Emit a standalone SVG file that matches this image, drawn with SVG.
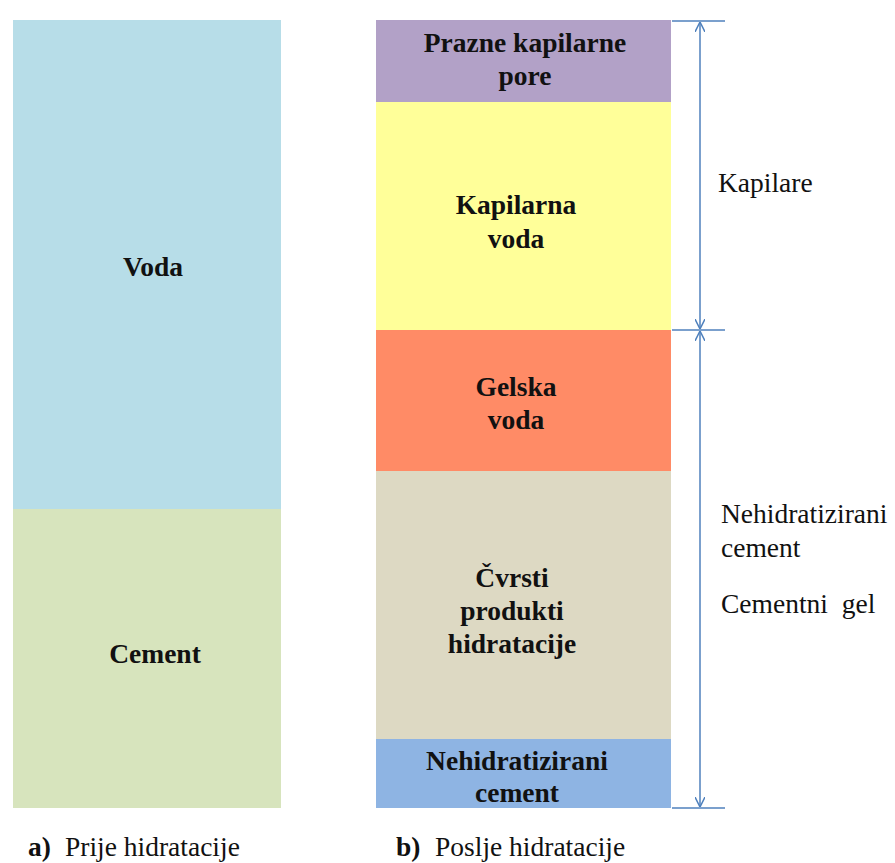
<svg xmlns="http://www.w3.org/2000/svg" width="895" height="863" viewBox="0 0 895 863">
<style>
.b{font-family:'Liberation Serif',serif;font-weight:bold;font-size:27.5px;fill:#111;text-anchor:middle}
.n{font-family:'Liberation Serif',serif;font-size:27.5px;fill:#111}
.ln{stroke:#4F81BD;stroke-width:1.5;fill:none}
</style>
<defs>
<marker id="ah" viewBox="0 0 10 10" refX="10" refY="5" markerWidth="10" markerHeight="10" markerUnits="userSpaceOnUse" orient="auto-start-reverse">
<path d="M0,0 L10,5 L0,10" fill="none" stroke="#4F81BD" stroke-width="1.5"/>
</marker>
</defs>
<rect width="895" height="863" fill="#fff"/>
<g id="voda"><rect x="13" y="20" width="268" height="489" fill="#B7DDE8"/><text class="b" font-family="'Liberation Serif', serif" x="153" y="276">Voda</text></g>
<g id="cement"><rect x="13" y="509" width="268" height="299" fill="#D7E4BD"/><text class="b" font-family="'Liberation Serif', serif" x="155" y="663">Cement</text></g>
<g id="prazne"><rect x="376" y="20" width="295" height="82" fill="#B2A1C7"/><text class="b" font-family="'Liberation Serif', serif" x="525" y="52">Prazne kapilarne</text><text class="b" font-family="'Liberation Serif', serif" x="525" y="85">pore</text></g>
<g id="kapilarna"><rect x="376" y="102" width="295" height="228" fill="#FFFF99"/><text class="b" font-family="'Liberation Serif', serif" x="516" y="214">Kapilarna</text><text class="b" font-family="'Liberation Serif', serif" x="516" y="248">voda</text></g>
<g id="gelska"><rect x="376" y="330" width="295" height="141" fill="#FF8B66"/><text class="b" font-family="'Liberation Serif', serif" x="516" y="396">Gelska</text><text class="b" font-family="'Liberation Serif', serif" x="516" y="429">voda</text></g>
<g id="cvrsti"><rect x="376" y="471" width="295" height="268" fill="#DDD9C3"/><text class="b" font-family="'Liberation Serif', serif" x="512" y="587">Čvrsti</text><text class="b" font-family="'Liberation Serif', serif" x="512" y="620">produkti</text><text class="b" font-family="'Liberation Serif', serif" x="512" y="653">hidratacije</text></g>
<g id="nehid"><rect x="376" y="739" width="295" height="69" fill="#8EB4E3"/><text class="b" font-family="'Liberation Serif', serif" x="517" y="770">Nehidratizirani</text><text class="b" font-family="'Liberation Serif', serif" x="517" y="802">cement</text></g>
<g id="connectors">
<line class="ln" x1="672" y1="21" x2="725" y2="21"/>
<line class="ln" x1="672" y1="330" x2="725" y2="330"/>
<line class="ln" x1="672" y1="808" x2="725" y2="808"/>
<line class="ln" x1="700" y1="22" x2="700" y2="329" marker-start="url(#ah)" marker-end="url(#ah)"/>
<line class="ln" x1="700" y1="331" x2="700" y2="807" marker-start="url(#ah)" marker-end="url(#ah)"/>
</g>
<g id="labels">
<text class="n" font-family="'Liberation Serif', serif" x="718" y="192">Kapilare</text>
<text class="n" font-family="'Liberation Serif', serif" x="721" y="523">Nehidratizirani</text>
<text class="n" font-family="'Liberation Serif', serif" x="721" y="557">cement</text>
<text class="n" font-family="'Liberation Serif', serif" x="721" y="613" xml:space="preserve">Cementni  gel</text>
<text class="n" font-family="'Liberation Serif', serif" x="28" y="856"><tspan font-weight="bold">a)</tspan><tspan x="65">Prije hidratacije</tspan></text>
<text class="n" font-family="'Liberation Serif', serif" x="396" y="856"><tspan font-weight="bold">b)</tspan><tspan x="435">Poslje hidratacije</tspan></text>
</g>
</svg>
